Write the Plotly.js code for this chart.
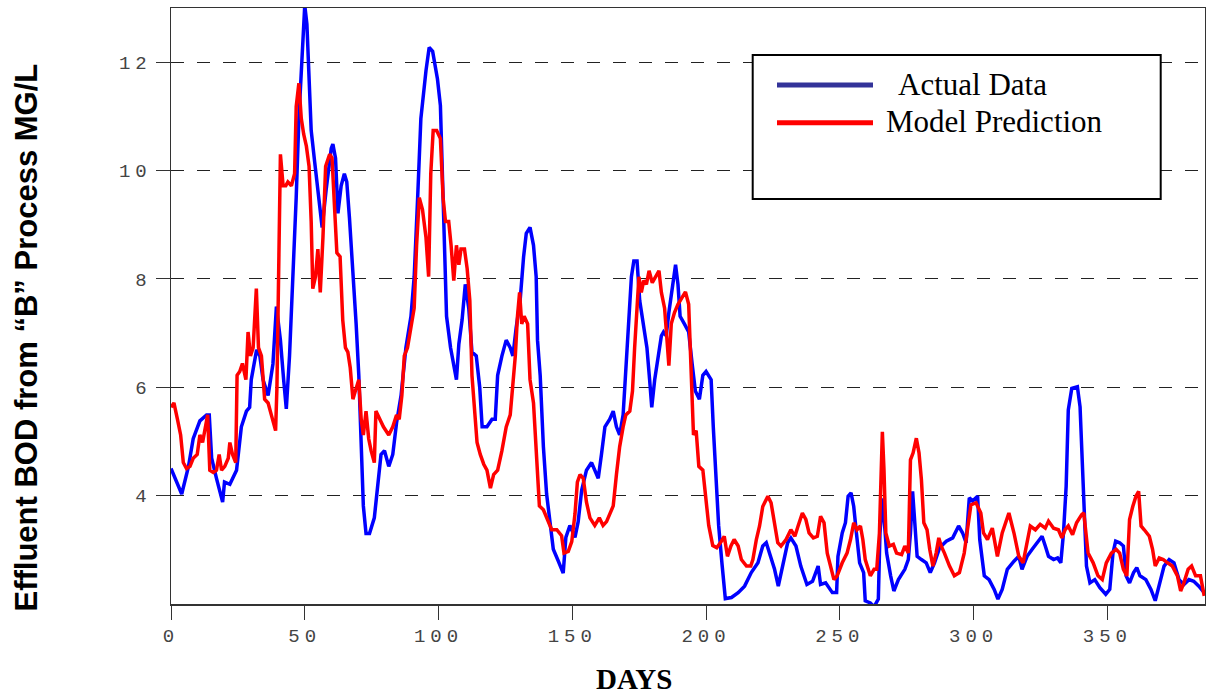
<!DOCTYPE html>
<html><head><meta charset="utf-8">
<script src="https://cdn.plot.ly/plotly-3.0.1.min.js"></script>
<style>
html,body{margin:0;padding:0;background:#fff;}
#chart{width:1206px;height:698px;}
.xtick text,.ytick text{letter-spacing:5px;}
</style></head><body><div id="chart"></div>
<script>
// ---- data ----
const days_actual = [0,4,6.5,8.3,10.8,13.3,14.3,15.2,17,19.3,20,22,24.5,26.3,28.2,29.4,30,32,33.2,34.4,36.3,38.1,39.4,40.9,42.1,43.1,44.3,45.6,46.8,47.8,49,50,50.8,51.5,52.4,53.7,55.3,56.5,58,59.9,60.5,61.5,62.4,63.6,64.8,65.7,66.7,68,69.2,70.2,71.1,71.9,72.9,74.2,76,77.3,78.5,79.8,81.4,82.9,84.3,86,87.8,89.7,90.9,92.2,93.4,95.3,96.5,97.8,99.6,
100.7,102,103,104.5,105.7,106.7,107.6,108.8,110,111.3,112.5,114.1,115.4,116.3,118.1,120,121.2,122.1,123.7,125.3,126.8,127.8,129,130.5,131.8,132.8,134.2,135.5,136.5,137,138,139.2,140.4,141.7,142.9,144.8,146.6,147.6,149.1,151,152.2,153.5,155.3,157.2,158.4,159.7,160.9,162.2,164,165.3,166.5,167.7,169,170,170.8,172.1,173,174.2,175.2,176.4,177.9,178.9,179.7,180.8,182,183.3,184.1,185.1,186.1,187.6,188.6,189.5,190.3,191.9,193.5,194.8,196,197.5,198.8,200,201.9,202.7,203.7,204.7,206,207.2,
209.5,212,214.4,216.9,219.4,221.2,222.5,224.3,225.6,227,228.6,230.5,231.7,233.6,235.4,237.7,239.8,241.9,242.8,244.7,247.2,248.8,249.3,250.9,252.1,253.1,254.2,255.2,256.2,257.4,258.9,259.5,261.4,262.8,264.4,265,266,267.5,269,270.2,271.9,274.3,275.6,276.4,277.2,278,278.9,280.5,282.3,283.8,285.4,287.3,289.8,292.2,294.4,295.9,297.2,298.4,299.6,301.5,302.3,304,
305.8,307.7,309.1,310.7,312.6,315.1,316.9,318.1,320,321.9,323.7,325.6,326.8,328,329.9,331.4,332.6,333.6,334.6,335.4,336.7,338.8,339.8,340.7,341.6,342.2,343.5,345.3,347.2,349.4,350.9,352.1,353.1,354.6,356,357,358.3,359.8,361,362.2,364.4,366.3,367.9,369.4,371.2,373.1,374.9,376.8,378.6,380.5,382.3,384.2,386.2];
const bod_actual = [4.50,4.03,4.53,5.05,5.38,5.49,5.49,4.69,4.32,3.88,4.25,4.21,4.47,5.27,5.56,5.63,6.14,6.69,6.58,6.14,5.85,6.43,7.49,6.87,6.14,5.60,6.58,7.97,9.50,10.96,11.98,13.05,12.70,11.69,10.74,10.16,9.50,8.95,9.65,10.41,10.49,10.23,9.21,9.72,9.94,9.79,9.13,8.19,7.17,6.22,5.12,3.81,3.30,3.30,3.59,4.25,4.76,4.83,4.54,4.76,5.34,5.85,6.73,7.31,8.04,9.50,10.96,11.84,12.27,12.20,11.69,
11.20,9.06,7.31,6.73,6.36,6.14,6.80,7.24,7.90,7.46,6.65,6.58,6.00,5.27,5.27,5.41,5.41,6.22,6.58,6.87,6.73,6.58,7.09,7.60,8.41,8.84,8.95,8.62,8.04,6.87,6.22,4.90,4.03,3.45,3.01,2.79,2.57,3.23,3.45,3.23,3.52,4.10,4.47,4.61,4.47,4.32,4.76,5.27,5.41,5.56,5.27,5.12,5.49,6.36,7.17,8.04,8.33,8.33,7.60,7.17,6.73,6.14,5.63,6.14,6.58,6.95,7.02,6.95,7.38,7.90,8.26,7.90,7.31,7.17,7.02,6.43,5.93,5.78,6.22,6.29,6.14,5.27,4.39,3.45,2.72,2.10,
2.12,2.21,2.33,2.58,2.76,3.07,3.13,2.82,2.64,2.33,2.70,3.13,3.22,3.07,2.70,2.36,2.42,2.70,2.36,2.39,2.21,2.21,2.88,3.31,3.50,3.99,4.05,3.80,3.31,2.76,2.58,2.06,2.02,1.95,2.09,3.31,3.95,2.94,2.52,2.24,2.45,2.64,2.82,3.31,4.08,3.44,2.88,2.82,2.76,2.58,2.76,3.04,3.16,3.22,3.44,3.31,3.13,3.96,3.90,3.99,3.19,2.52,
2.45,2.27,2.09,2.27,2.64,2.79,2.88,2.64,2.88,3.01,3.13,3.25,3.07,2.88,2.82,2.85,2.76,3.31,4.17,5.58,5.98,6.01,5.64,4.66,3.68,2.70,2.39,2.45,2.30,2.18,2.27,2.94,3.16,3.13,3.07,2.52,2.39,2.58,2.67,2.52,2.45,2.27,2.06,2.33,2.70,2.82,2.76,2.45,2.36,2.45,2.42,2.33,2.21];

const days_model = [0,1.1,2.4,3.6,4.6,5.8,7.1,8.3,9.8,10.8,11.8,12.7,13.7,14.5,15.8,17,18,18.9,20.1,21.4,22,23,24.2,24.7,25.7,26.7,28,28.8,29.7,30.7,31.9,32.7,33.8,35,36.3,37.5,39.1,39.6,40.4,40.9,41.9,42.9,43.7,45,46.2,46.8,47.8,48.7,49.6,50.6,51.6,52.4,53,54,54.9,55.8,56.8,57.8,59.3,60.2,61.1,62,63.2,64.2,65.2,66.1,67,68,68.9,70.2,71.1,71.9,72.9,73.9,74.8,76,76.6,77.9,79.4,81.4,82.9,84.3,85.3,86.3,87.2,88.4,89.7,90.9,91.8,92.8,94,95.3,96.3,97.1,98,99.3,
100.7,101.7,102.6,103.8,104.7,105.7,106.7,107.6,108.4,109.7,110.7,111.7,112.5,113.4,114.4,115.6,116.9,118.1,119.4,120.6,122.1,123.7,125.3,126.8,127.8,128.7,129.5,130.3,131.1,132,133.3,134.2,135.5,136.7,137.7,139.2,140.4,142.3,144.2,146,146.9,148.5,149.8,151,151.9,152.9,154.1,155.3,156.6,158.4,160.1,161.5,162.8,164,165.3,166.5,167.7,169,170,171.5,172.5,173.3,174.2,174.9,175.8,176.7,177.7,178.7,179.9,181.1,182.4,183.3,184.5,185.4,186.1,187,188.2,189.5,191.1,192.3,193.5,194.4,195.3,196.3,197.3,198.8,200,201,202.5,204,205.6,
206.8,208,209.3,210.5,212,213.2,215.1,216.7,217.5,218.8,220,221.2,223.1,224.3,225.6,226.8,228,229.9,231.7,233.2,234.4,236,237.3,238.5,240.1,241.6,242.8,244.1,245.3,246.5,247.8,249,250.9,252.7,254,255.2,256.4,257.7,258.6,259.5,261.4,262.8,263.8,264.8,265.3,265.9,266.5,267.2,268.5,270,271.2,273.1,274.3,275.6,276.4,277.4,278.6,279.6,280.5,281.4,282.6,283.6,284.8,286,287,287.9,289.1,291,292.8,294.7,296.5,297.8,299,300.9,302.7,
303.7,305.2,307,308.9,310.7,313.2,315.1,316.9,318.5,320,321.2,323.1,324.9,326.8,328,329.9,331.7,333,334.2,335.4,337,338.5,340.4,341.2,342,342.8,344.7,346.5,348.1,349.6,351.5,353.3,354.6,356,357.3,358.3,359.5,360.7,361.7,362.6,363.8,365.7,366.9,367.9,369.4,370.9,372.5,374.3,376.2,377.4,378.6,380.2,381.5,383,384.8,386.2];
const bod_model = [5.63,5.71,5.41,5.12,4.61,4.50,4.54,4.69,4.76,5.12,4.98,5.27,5.49,4.47,4.43,4.47,4.76,4.47,4.54,4.69,4.98,4.76,4.61,6.22,6.29,6.44,6.14,7.02,6.58,6.73,7.82,6.73,6.58,5.78,5.71,5.49,5.20,6.00,8.77,10.30,9.72,9.72,9.79,9.72,9.94,11.18,11.61,10.96,10.67,10.45,10.08,9.06,7.82,8.04,8.55,7.75,8.77,10.08,10.30,10.23,9.35,8.48,8.41,7.24,6.73,6.65,6.36,5.78,5.93,6.14,5.41,5.12,5.56,5.05,4.83,4.61,5.56,5.41,5.27,5.12,5.27,5.49,5.41,5.85,6.58,6.73,7.09,7.46,8.62,9.50,9.28,8.77,8.04,9.94,10.74,10.74,
10.59,9.50,9.06,9.06,8.62,7.97,8.62,8.26,8.55,8.55,8.19,7.60,6.22,5.71,4.98,4.76,4.58,4.47,4.14,4.39,4.47,4.83,5.27,5.49,6.00,6.58,7.31,7.75,7.17,7.31,7.17,6.14,5.71,4.54,3.81,3.74,3.59,3.37,3.37,3.26,2.94,2.97,3.15,3.66,4.25,4.39,4.32,3.88,3.59,3.45,3.59,3.45,3.52,3.66,3.81,4.39,4.90,5.27,5.49,5.56,5.93,6.73,7.46,8.04,7.75,7.97,7.90,8.15,7.93,8.04,8.15,7.75,7.46,6.87,6.40,7.17,7.38,7.53,7.68,7.76,7.53,6.36,5.12,5.20,4.54,4.47,3.96,3.45,3.08,3.04,3.15,
3.25,2.88,3.07,3.19,3.07,2.82,2.70,2.70,2.82,3.19,3.44,3.80,3.99,3.87,3.44,3.13,3.07,3.19,3.37,3.25,3.44,3.68,3.56,3.31,3.22,3.25,3.62,3.50,2.94,2.70,2.45,2.52,2.76,2.94,3.19,3.50,3.37,3.44,3.19,2.82,2.52,2.64,2.64,3.31,4.48,5.18,4.48,3.31,3.07,3.10,2.94,2.91,3.07,2.94,4.66,4.79,5.06,4.79,4.29,3.50,3.37,3.01,2.70,2.94,3.22,3.07,2.94,2.70,2.52,2.58,2.94,3.44,3.83,3.87,3.68,
3.31,3.19,3.40,2.88,3.31,3.68,3.31,2.88,2.76,3.13,3.44,3.37,3.47,3.40,3.53,3.40,3.37,3.22,3.37,3.44,3.28,3.50,3.65,3.68,3.31,2.94,2.76,2.52,2.45,2.76,2.94,3.01,2.94,2.64,2.52,3.56,3.80,3.99,4.08,3.44,3.37,3.25,3.01,2.70,2.85,2.82,2.76,2.70,2.52,2.24,2.39,2.64,2.70,2.52,2.52,2.15];

const series_names = ['Actual Data', 'Model Prediction'];
const x_ticks = [0, 50, 100, 150, 200, 250, 300, 350];
const y_ticks = [4, 6, 8, 10, 12];
const x_title = 'DAYS';
const y_title = 'Effluent BOD from “B” Process MG/L';

// ---- layout helpers (pixel -> paper) ----
const W = 1206, H = 698, ML = 171, MR = 1, MT = 8, MB = 94;
const PW = W - ML - MR, PH = H - MT - MB;
const px = x => (x - ML) / PW;
const py = y => (H - MB - y) / PH;

const traces = [
  {x: days_actual, y: bod_actual, name: series_names[0], type: 'scatter', mode: 'lines',
   line: {color: '#0000ff', width: 3.5}},
  {x: days_model, y: bod_model, name: series_names[1], type: 'scatter', mode: 'lines',
   line: {color: '#ff0000', width: 3.5}}
];

const tickFont = {family: 'Liberation Mono, DejaVu Sans Mono, monospace', size: 19, color: '#444'};

const layout = {
  width: W, height: H,
  margin: {l: ML, r: MR, t: MT, b: MB, pad: 0},
  paper_bgcolor: '#fff', plot_bgcolor: '#fff',
  showlegend: false,
  xaxis: {
    range: [0, 386.5], tickvals: x_ticks, ticktext: x_ticks.map(String),
    ticks: 'outside', ticklen: 14, tickwidth: 1, tickcolor: '#333',
    showline: true, linecolor: '#333', linewidth: 1.5, mirror: true,
    showgrid: false, zeroline: false, tickfont: tickFont
  },
  yaxis: {
    range: [2, 13], tickvals: y_ticks, ticktext: y_ticks.map(String),
    ticks: 'outside', ticklen: 14, tickwidth: 1, tickcolor: '#333',
    showline: true, linecolor: '#333', linewidth: 1.5, mirror: true,
    showgrid: true, gridcolor: '#222', gridwidth: 1, griddash: '13px,13px',
    zeroline: false, tickfont: tickFont
  },
  shapes: [
    {type: 'rect', xref: 'paper', yref: 'paper', x0: px(752.7), x1: px(1160.7), y0: py(199), y1: py(55),
     line: {color: '#000', width: 2}, fillcolor: '#fff', layer: 'above'},
    {type: 'line', xref: 'paper', yref: 'paper', x0: px(777), x1: px(873), y0: py(85), y1: py(85),
     line: {color: '#333399', width: 5}, layer: 'above'},
    {type: 'line', xref: 'paper', yref: 'paper', x0: px(777), x1: px(873), y0: py(122.7), y1: py(122.7),
     line: {color: '#ff0000', width: 5}, layer: 'above'}
  ],
  annotations: [
    {text: series_names[0], xref: 'paper', yref: 'paper', x: px(896), y: py(84), xanchor: 'left', yanchor: 'middle',
     showarrow: false, font: {family: 'Liberation Serif, Times New Roman, serif', size: 31, color: '#000'}},
    {text: series_names[1], xref: 'paper', yref: 'paper', x: px(883.5), y: py(121.5), xanchor: 'left', yanchor: 'middle',
     showarrow: false, font: {family: 'Liberation Serif, Times New Roman, serif', size: 31, color: '#000'}},
    {text: y_title, xref: 'paper', yref: 'paper', x: px(26), y: py(337.5), xanchor: 'center', yanchor: 'middle',
     textangle: -90, showarrow: false,
     font: {family: 'Liberation Sans, Arial, sans-serif', size: 31, color: '#000', weight: 'bold'}},
    {text: x_title, xref: 'paper', yref: 'paper', x: px(634), y: py(679), xanchor: 'center', yanchor: 'middle',
     showarrow: false,
     font: {family: 'Liberation Serif, Times New Roman, serif', size: 29, color: '#000', weight: 'bold'}}
  ]
};

Plotly.newPlot('chart', traces, layout, {displayModeBar: false, staticPlot: true});
</script></body></html>
